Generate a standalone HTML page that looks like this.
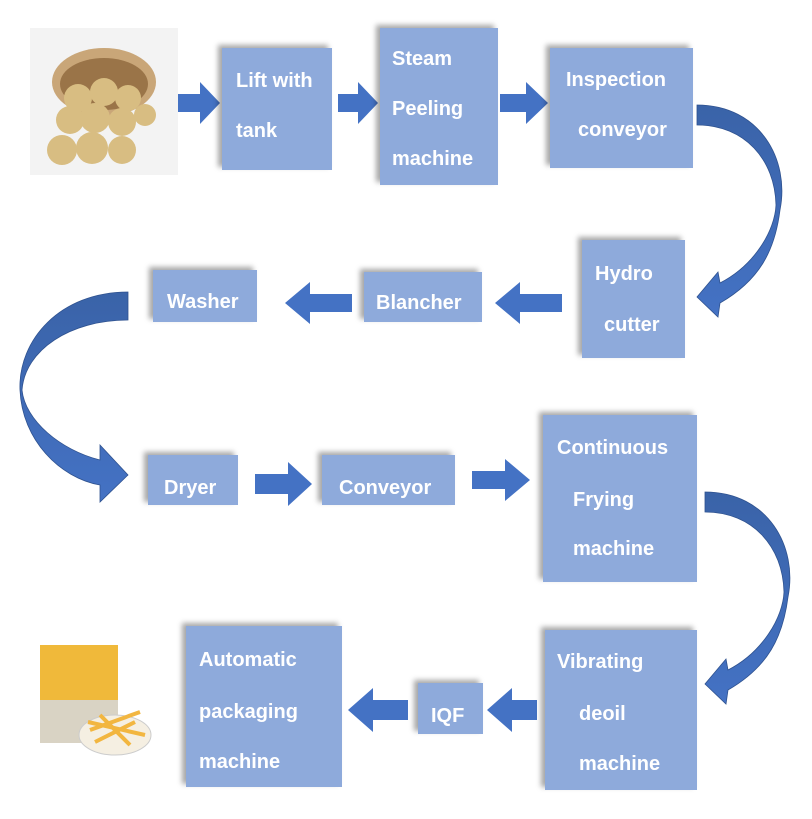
<!DOCTYPE html>
<html><head><style>
body{margin:0;width:812px;height:819px;background:#fff;position:relative;overflow:hidden;font-family:"Liberation Sans",sans-serif}
.b{position:absolute;background:#8eaadb;box-shadow:-4px -3px 5px rgba(0,0,0,0.35);color:#fff;font-weight:bold;font-size:20px}
.b span{position:absolute;white-space:nowrap}
svg{position:absolute;left:0;top:0}
</style></head><body>
<svg width="812" height="819">
<defs>
<linearGradient id="g1" x1="0" y1="0" x2="0" y2="1"><stop offset="0" stop-color="#3a63a8"/><stop offset="1" stop-color="#4472c4"/></linearGradient>
</defs>
<!-- potato image -->
<rect x="30" y="28" width="148" height="147" fill="#f3f3f3"/>
<ellipse cx="104" cy="82" rx="52" ry="34" fill="#c9a678"/>
<ellipse cx="104" cy="84" rx="44" ry="26" fill="#9a7448"/>
<g fill="#d8bd82">
<circle cx="78" cy="98" r="14"/><circle cx="104" cy="92" r="14"/><circle cx="128" cy="98" r="13"/>
<circle cx="70" cy="120" r="14"/><circle cx="95" cy="118" r="15"/><circle cx="122" cy="122" r="14"/>
<circle cx="62" cy="150" r="15"/><circle cx="92" cy="148" r="16"/><circle cx="122" cy="150" r="14"/><circle cx="145" cy="115" r="11"/>
</g>
<!-- fries image -->
<rect x="40" y="645" width="78" height="98" fill="#f0b93a"/>
<rect x="40" y="700" width="78" height="43" fill="#d9d3c4"/>
<ellipse cx="115" cy="735" rx="36" ry="20" fill="#f5efe2" stroke="#ccc"/>
<g stroke="#f2b640" stroke-width="4"><line x1="90" y1="730" x2="140" y2="712"/><line x1="95" y1="742" x2="135" y2="722"/><line x1="100" y1="715" x2="130" y2="745"/><line x1="88" y1="722" x2="145" y2="735"/></g>
<g fill="#4472c4">
<path d="M178,94 L200,94 L200,82 L220,103 L200,124 L200,112 L178,112Z"/>
<path d="M338,94 L358,94 L358,82 L378,103 L358,124 L358,112 L338,112Z"/>
<path d="M500,94 L526,94 L526,82 L548,103 L526,124 L526,112 L500,112Z"/>
<path d="M255,474 L288,474 L288,462 L312,484 L288,506 L288,494 L255,494Z"/>
<path d="M472,471 L505,471 L505,459 L530,480 L505,501 L505,489 L472,489Z"/>
<path d="M562,294 L520,294 L520,282 L495,303 L520,324 L520,312 L562,312Z"/>
<path d="M352,294 L310,294 L310,282 L285,303 L310,324 L310,312 L352,312Z"/>
<path d="M537,700 L512,700 L512,688 L487,710 L512,732 L512,720 L537,720Z"/>
<path d="M408,700 L373,700 L373,688 L348,710 L373,732 L373,720 L408,720Z"/>
</g>
<g fill="url(#g1)" stroke="#2f528f" stroke-width="0.8">
<path d="M697,105 C760,105 790,160 780,210 C775,250 760,280 720,303 L718,317 L697,297 L718,272 L720,283 C755,265 775,230 776,205 C775,160 745,125 697,125 Z"/>
<path d="M128,292 C60,292 18,340 20,390 C22,440 60,478 100,485 L100,502 L128,475 L100,445 L100,460 C60,450 25,420 22,390 C25,350 70,320 128,320 Z"/>
<path transform="translate(8,387)" d="M697,105 C760,105 790,160 780,210 C775,250 760,280 720,303 L718,317 L697,297 L718,272 L720,283 C755,265 775,230 776,205 C775,160 745,125 697,125 Z"/>
</g>
</svg>
<div class="b" style="left:222px;top:48px;width:110px;height:122px"><span style="left:14px;top:22px">Lift with</span><span style="left:14px;top:72px">tank</span></div>
<div class="b" style="left:380px;top:28px;width:118px;height:157px"><span style="left:12px;top:20px">Steam</span><span style="left:12px;top:70px">Peeling</span><span style="left:12px;top:120px">machine</span></div>
<div class="b" style="left:550px;top:48px;width:143px;height:120px"><span style="left:16px;top:21px">Inspection</span><span style="left:28px;top:71px">conveyor</span></div>
<div class="b" style="left:582px;top:240px;width:103px;height:118px"><span style="left:13px;top:23px">Hydro</span><span style="left:22px;top:74px">cutter</span></div>
<div class="b" style="left:364px;top:272px;width:118px;height:50px"><span style="left:12px;top:20px">Blancher</span></div>
<div class="b" style="left:153px;top:270px;width:104px;height:52px"><span style="left:14px;top:21px">Washer</span></div>
<div class="b" style="left:148px;top:455px;width:90px;height:50px"><span style="left:16px;top:22px">Dryer</span></div>
<div class="b" style="left:322px;top:455px;width:133px;height:50px"><span style="left:17px;top:22px">Conveyor</span></div>
<div class="b" style="left:543px;top:415px;width:154px;height:167px"><span style="left:14px;top:22px">Continuous</span><span style="left:30px;top:74px">Frying</span><span style="left:30px;top:123px">machine</span></div>
<div class="b" style="left:545px;top:630px;width:152px;height:160px"><span style="left:12px;top:21px">Vibrating</span><span style="left:34px;top:73px">deoil</span><span style="left:34px;top:123px">machine</span></div>
<div class="b" style="left:418px;top:683px;width:65px;height:51px"><span style="left:13px;top:22px">IQF</span></div>
<div class="b" style="left:186px;top:626px;width:156px;height:161px"><span style="left:13px;top:23px">Automatic</span><span style="left:13px;top:75px">packaging</span><span style="left:13px;top:125px">machine</span></div>
</body></html>
